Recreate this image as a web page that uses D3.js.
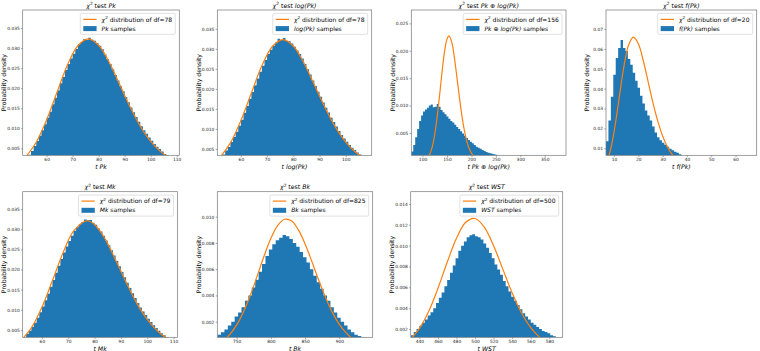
<!DOCTYPE html>
<html lang="en">
<head>
<meta charset="utf-8">
<title>chi2 tests</title>
<script src="https://cdn.jsdelivr.net/npm/d3@7"></script>
<style>
body { margin: 0; background: #fff; }
text { font-family: "DejaVu Sans", sans-serif; }
</style>
</head>
<body>
<script>
var blue = "#1f77b4", orange = "#ff7f0e";

// histogram densities, one value per bin (bin start + width below)
var pkStart = 51, pkWidth = 1;
var pkDensity = [0.0020, 0.0027, 0.0034, 0.0043, 0.0056, 0.0068, 0.0081, 0.0095, 0.0110, 0.0126,
    0.0141, 0.0160, 0.0176, 0.0194, 0.0212, 0.0228, 0.0245, 0.0260, 0.0274, 0.0286,
    0.0298, 0.0310, 0.0315, 0.0322, 0.0320, 0.0326, 0.0321, 0.0318, 0.0312, 0.0306,
    0.0297, 0.0284, 0.0272, 0.0260, 0.0247, 0.0233, 0.0219, 0.0205, 0.0192, 0.0178,
    0.0165, 0.0152, 0.0140, 0.0128, 0.0116, 0.0105, 0.0095, 0.0086, 0.0077, 0.0069,
    0.0061, 0.0054, 0.0048, 0.0042, 0.0036, 0.0033];

var logPkStart = 51, logPkWidth = 1;
var logPkDensity = [0.0021, 0.0028, 0.0036, 0.0046, 0.0055, 0.0067, 0.0080, 0.0093, 0.0108, 0.0123,
    0.0140, 0.0157, 0.0175, 0.0192, 0.0209, 0.0226, 0.0243, 0.0258, 0.0272, 0.0287,
    0.0298, 0.0308, 0.0316, 0.0325, 0.0322, 0.0327, 0.0320, 0.0319, 0.0313, 0.0305,
    0.0296, 0.0287, 0.0276, 0.0262, 0.0249, 0.0236, 0.0221, 0.0207, 0.0193, 0.0180,
    0.0166, 0.0153, 0.0141, 0.0128, 0.0117, 0.0106, 0.0095, 0.0085, 0.0076, 0.0068,
    0.0060, 0.0053, 0.0047, 0.0041, 0.0036, 0.0031];

var pkLogPkStart = 77, pkLogPkWidth = 4;
var pkLogPkDensity = [0.0016, 0.0028, 0.0042, 0.0057, 0.0072, 0.0082, 0.0089, 0.0093, 0.0096, 0.0100,
    0.0102, 0.0097, 0.0098, 0.0103, 0.0098, 0.0092, 0.0088, 0.0084, 0.0080, 0.0076,
    0.0072, 0.0069, 0.0065, 0.0061, 0.0057, 0.0053, 0.0049, 0.0045, 0.0041, 0.0037,
    0.0034, 0.0031, 0.0028, 0.0025, 0.0023, 0.0021, 0.0019, 0.0017, 0.0015, 0.0014,
    0.0013, 0.0012, 0.0011, 0.0010, 0.0009, 0.0008, 0.0007];

var fPkStart = 6.7, fPkWidth = 1;
var fPkDensity = [0.0135, 0.0240, 0.0360, 0.0470, 0.0555, 0.0605, 0.0645, 0.0605, 0.0590, 0.0550,
    0.0520, 0.0480, 0.0440, 0.0405, 0.0365, 0.0325, 0.0290, 0.0265, 0.0240, 0.0210,
    0.0180, 0.0155, 0.0140, 0.0128, 0.0118, 0.0108, 0.0098, 0.0090, 0.0083, 0.0077,
    0.0070, 0.0064, 0.0058];

var mkStart = 52, mkWidth = 1;
var mkDensity = [0.0026, 0.0032, 0.0040, 0.0048, 0.0058, 0.0068, 0.0080, 0.0094, 0.0108, 0.0124,
    0.0140, 0.0157, 0.0174, 0.0192, 0.0209, 0.0226, 0.0242, 0.0257, 0.0271, 0.0284,
    0.0296, 0.0305, 0.0312, 0.0318, 0.0324, 0.0322, 0.0323, 0.0316, 0.0311, 0.0302,
    0.0294, 0.0284, 0.0272, 0.0260, 0.0248, 0.0235, 0.0221, 0.0208, 0.0194, 0.0181,
    0.0167, 0.0154, 0.0141, 0.0129, 0.0117, 0.0106, 0.0096, 0.0087, 0.0078, 0.0070,
    0.0062, 0.0055, 0.0048, 0.0042, 0.0037, 0.0032];

var bkStart = 722, bkWidth = 5;
var bkDensity = [0.0010, 0.0012, 0.0014, 0.0017, 0.0020, 0.0024, 0.0027, 0.0031, 0.0036, 0.0040,
    0.0046, 0.0052, 0.0058, 0.0064, 0.0070, 0.0075, 0.0079, 0.0082, 0.0084, 0.0086,
    0.0085, 0.0083, 0.0080, 0.0077, 0.0073, 0.0069, 0.0065, 0.0060, 0.0055, 0.0050,
    0.0045, 0.0040, 0.0036, 0.0031, 0.0027, 0.0023, 0.0020, 0.0017, 0.0014, 0.0012,
    0.0010, 0.0009, 0.0008];

var wstStart = 431, wstWidth = 3;
var wstDensity = [0.0014, 0.0017, 0.0020, 0.0023, 0.0026, 0.0029, 0.0033, 0.0036, 0.0040, 0.0045,
    0.0050, 0.0055, 0.0061, 0.0067, 0.0074, 0.0081, 0.0088, 0.0095, 0.0100, 0.0104,
    0.0108, 0.0110, 0.0111, 0.0109, 0.0108, 0.0106, 0.0102, 0.0098, 0.0093, 0.0088,
    0.0082, 0.0077, 0.0072, 0.0066, 0.0061, 0.0056, 0.0051, 0.0047, 0.0043, 0.0039,
    0.0035, 0.0032, 0.0029, 0.0026, 0.0024, 0.0022, 0.0020, 0.0018, 0.0017, 0.0016,
    0.0014, 0.0013, 0.0011];

// chi2 reference curves
var chi78X = [52, 56, 60, 64, 68, 72, 76, 80, 84, 88, 92, 96, 100, 104, 108];
var chi78Y = [0.00287, 0.00650, 0.01207, 0.01897, 0.02575, 0.03058, 0.0323, 0.0307, 0.02651, 0.02102, 0.01545, 0.01049, 0.0067, 0.00404, 0.00229];
var chi156X = [110, 115, 120, 125, 130, 135, 140, 145, 150, 154, 160, 165, 170, 175, 180, 185, 190, 195, 200, 205];
var chi156Y = [0.00046, 0.00115, 0.00249, 0.00476, 0.00798, 0.01197, 0.01621, 0.01985, 0.02213, 0.02273, 0.02148, 0.01883, 0.01541, 0.01181, 0.00848, 0.00573, 0.00366, 0.00224, 0.00129, 0.00071];
var chi20X = [6, 7, 8, 9, 10, 11, 12, 13, 14, 16, 18, 20, 22, 24, 26, 28, 30, 32, 34, 36, 38];
var chi20Y = [0.00135, 0.00328, 0.00662, 0.0116, 0.01813, 0.0259, 0.0344, 0.0429, 0.0507, 0.0620, 0.0659, 0.0626, 0.0543, 0.0437, 0.0330, 0.0237, 0.0162, 0.01066, 0.00677, 0.00416, 0.00249];
var chi79X = [52, 56, 60, 64, 68, 72, 77, 80, 84, 88, 92, 96, 100, 104, 108];
var chi79Y = [0.00235, 0.0055, 0.01063, 0.01726, 0.0241, 0.0295, 0.03208, 0.03118, 0.0276, 0.02235, 0.0168, 0.01166, 0.00763, 0.00468, 0.0027];
var chi825X = [720, 730, 740, 750, 760, 770, 780, 790, 800, 810, 820, 830, 840, 850, 860, 870, 880, 890, 900, 910, 920, 930];
var chi825Y = [0.00029, 0.00057, 0.00104, 0.00176, 0.00276, 0.00403, 0.00549, 0.00700, 0.00835, 0.00933, 0.00980, 0.00969, 0.00901, 0.00792, 0.00656, 0.00515, 0.00383, 0.00269, 0.00180, 0.00115, 0.00069, 0.0004];
var chi500X = [430, 440, 450, 460, 470, 480, 490, 500, 510, 520, 530, 540, 550, 560, 570, 580];
var chi500Y = [0.00098, 0.00203, 0.00367, 0.00589, 0.00840, 0.01070, 0.01224, 0.01261, 0.01177, 0.00998, 0.00772, 0.00546, 0.00355, 0.00212, 0.00117, 0.0006];

// axis limits and ticks
var pkXTicks = [60, 70, 80, 90, 100, 110], logPkXTicks = [60, 70, 80, 90, 100];
var pkLogPkXTicks = [100, 150, 200, 250, 300, 350], fPkXTicks = [10, 20, 30, 40, 50, 60];
var mkXTicks = [60, 70, 80, 90, 100, 110], bkXTicks = [750, 800, 850, 900];
var wstXTicks = [440, 460, 480, 500, 520, 540, 560, 580];
var y035Ticks = [0.005, 0.010, 0.015, 0.020, 0.025, 0.030, 0.035];
var y025Ticks = [0.005, 0.010, 0.015, 0.020, 0.025];
var y07Ticks = [0.01, 0.02, 0.03, 0.04, 0.05, 0.06, 0.07];
var y010Ticks = [0.002, 0.004, 0.006, 0.008, 0.010];
var y014Ticks = [0.002, 0.004, 0.006, 0.008, 0.010, 0.012, 0.014];

var I = function (t) { return {t: t, i: true}; };
var N = function (t) { return {t: t}; };

var panels = [
    {name: [I("Pk")], df: 78, box: [22.7, 10, 179.3, 155.3], xd: [50.8, 111], yd: [0.00325, 0.0395],
     xt: pkXTicks, yt: y035Ticks, yf: ".3f", start: pkStart, width: pkWidth, dens: pkDensity, cx: chi78X, cy: chi78Y},
    {name: [I("log(Pk)")], df: 78, box: [217.3, 10, 371.7, 155.3], xd: [51, 109.9], yd: [0.0034, 0.0397],
     xt: logPkXTicks, yt: y035Ticks, yf: ".3f", start: logPkStart, width: logPkWidth, dens: logPkDensity, cx: chi78X, cy: chi78Y},
    {name: [I("Pk"), N(" \u2295 "), I("log(Pk)")], df: 156, box: [411.3, 10, 566, 155.3], xd: [77, 393.5], yd: [0.00092, 0.02744],
     xt: pkLogPkXTicks, yt: y025Ticks, yf: ".3f", start: pkLogPkStart, width: pkLogPkWidth, dens: pkLogPkDensity, cx: chi156X, cy: chi156Y},
    {name: [I("f(Pk)")], df: 20, box: [606, 10, 756.7, 155.3], xd: [6.7, 68.7], yd: [0.00647, 0.0796],
     xt: fPkXTicks, yt: y07Ticks, yf: ".2f", start: fPkStart, width: fPkWidth, dens: fPkDensity, cx: chi20X, cy: chi20Y},
    {name: [I("Mk")], df: 79, box: [22.7, 191.7, 177.5, 337.3], xd: [52.7, 111.5], yd: [0.00318, 0.0393],
     xt: mkXTicks, yt: y035Ticks, yf: ".3f", start: mkStart, width: mkWidth, dens: mkDensity, cx: chi79X, cy: chi79Y},
    {name: [I("Bk")], df: 825, box: [217.3, 191.7, 372.7, 337.3], xd: [721.6, 948.8], yd: [0.00081, 0.0119],
     xt: bkXTicks, yt: y010Ticks, yf: ".3f", start: bkStart, width: bkWidth, dens: bkDensity, cx: chi825X, cy: chi825Y},
    {name: [I("WST")], df: 500, box: [410.7, 191.7, 562.7, 337.3], xd: [430.7, 594.4], yd: [0.0012, 0.01518],
     xt: wstXTicks, yt: y014Ticks, yf: ".3f", start: wstStart, width: wstWidth, dens: wstDensity, cx: chi500X, cy: chi500Y}
];

var svg = d3.select("body").append("svg")
    .attr("width", 760)
    .attr("height", 351);

// write mixed italic / superscript text into a <text>
function rich(sel, parts, size) {
    var up = false;
    parts.forEach(function (p) {
        var ts = sel.append("tspan").text(p.t)
            .style("font-size", (p.sup ? size * 0.7 : size) + "px");
        if (p.i) ts.style("font-style", "italic");
        if (p.sup) { ts.attr("dy", -size * 0.4); up = true; }
        else if (up) { ts.attr("dy", size * 0.4); up = false; }
    });
}

panels.forEach(function (p, k) {
    var x0 = p.box[0], y0 = p.box[1], x1 = p.box[2], y1 = p.box[3];
    var xs = d3.scaleLinear().domain(p.xd).range([x0, x1]);
    var ys = d3.scaleLinear().domain(p.yd).range([y1, y0]);
    var g = svg.append("g");

    g.append("clipPath").attr("id", "clip" + k)
        .append("rect").attr("x", x0).attr("y", y0).attr("width", x1 - x0).attr("height", y1 - y0);
    var plot = g.append("g").attr("clip-path", "url(#clip" + k + ")");

    // histogram as one stepped outline so neighbouring bins don't show seams
    var bins = p.dens.map(function (d, i) { return {x: p.start + i * p.width, v: d}; });
    bins.push({x: p.start + p.dens.length * p.width, v: p.dens[p.dens.length - 1]});
    var area = d3.area()
        .x(function (d) { return xs(d.x); })
        .y0(y1 + 2)
        .y1(function (d) { return ys(d.v); })
        .curve(d3.curveStepAfter);
    plot.append("path")
        .datum(bins)
        .attr("d", area)
        .attr("fill", blue);

    // chi2 pdf
    var line = d3.line()
        .x(function (d) { return xs(d[0]); })
        .y(function (d) { return ys(d[1]); })
        .curve(d3.curveCatmullRom);
    plot.append("path")
        .datum(d3.zip(p.cx, p.cy))
        .attr("d", line)
        .attr("fill", "none")
        .attr("stroke", orange)
        .attr("stroke-width", 1.2);

    // axes
    var xa = g.append("g").attr("transform", "translate(0," + y1 + ")")
        .call(d3.axisBottom(xs).tickValues(p.xt).tickSize(1.6).tickPadding(1.2).tickFormat(d3.format("d")));
    var ya = g.append("g").attr("transform", "translate(" + x0 + ",0)")
        .call(d3.axisLeft(ys).tickValues(p.yt).tickSize(1.6).tickPadding(1.3).tickFormat(d3.format(p.yf)));
    [xa, ya].forEach(function (a) {
        a.select(".domain").remove();
        a.attr("font-size", null).attr("font-family", null);
        a.selectAll("text").style("font-size", "4.4px").attr("fill", "#222");
        a.selectAll("line").attr("stroke", "#444").attr("stroke-width", 0.5);
    });

    g.append("rect")
        .attr("x", x0).attr("y", y0).attr("width", x1 - x0).attr("height", y1 - y0)
        .attr("fill", "none").attr("stroke", "#777").attr("stroke-width", 0.7);

    // title and axis labels
    var title = g.append("text").attr("x", (x0 + x1) / 2).attr("y", y0 - 2.3).attr("text-anchor", "middle");
    rich(title, [I("\u03c7"), {t: "2", sup: true, i: false}, N(" test ")].concat(p.name), 6.2);

    var xl = g.append("text").attr("x", (x0 + x1) / 2).attr("y", y1 + 13.6).attr("text-anchor", "middle");
    rich(xl, [I("t ")].concat(p.name), 6.2);

    g.append("text")
        .attr("transform", "translate(" + (x0 - 16.8) + "," + ((y0 + y1) / 2) + ") rotate(-90)")
        .attr("text-anchor", "middle")
        .style("font-size", "6.2px")
        .text("Probability density");

    // legend
    var lg = g.append("g");
    var box = lg.append("rect").attr("rx", 1.5).attr("fill", "#fff").attr("fill-opacity", 0.85)
        .attr("stroke", "#ccc").attr("stroke-width", 0.6);
    var t1 = lg.append("text").attr("x", 21.3).attr("y", 8.2);
    rich(t1, [I("\u03c7"), {t: "2", sup: true}, N(" distribution of df=" + p.df)], 6);
    var t2 = lg.append("text").attr("x", 21.3).attr("y", 17.4);
    rich(t2, p.name.concat([N(" samples")]), 6);
    lg.append("line").attr("x1", 3).attr("x2", 16.3).attr("y1", 6).attr("y2", 6)
        .attr("stroke", orange).attr("stroke-width", 1.2);
    lg.append("rect").attr("x", 3).attr("y", 12.7).attr("width", 13.3).attr("height", 5).attr("fill", blue);
    var w = Math.max(t1.node().getComputedTextLength(), t2.node().getComputedTextLength()) + 24.5;
    box.attr("width", w).attr("height", 21);
    lg.attr("transform", "translate(" + (x1 - 4 - w) + "," + (y0 + 3.4) + ")");
});
</script>
</body>
</html>
